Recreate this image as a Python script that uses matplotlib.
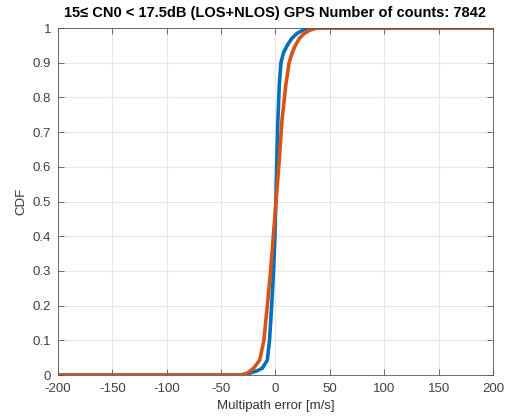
# CDF of multipath error, 15 <= CN0 < 17.5 dB, GPS (LOS+NLOS)

import matplotlib.pyplot as plt

# values
blue_x = [-200, -30, -24, -17, -12, -7.5, -5.5, -3.5, -1.8, -0.5, 0.3, 1.2,
          2.2, 3.5, 5, 7.5, 11, 15, 20, 26, 32, 200]
blue_cdf = [0, 0, 0.005, 0.012, 0.02, 0.043, 0.1, 0.2, 0.3, 0.4, 0.5, 0.62,
            0.735, 0.836, 0.9, 0.93, 0.951, 0.97, 0.985, 0.995, 1, 1]
orange_x = [-200, -32, -26, -20, -14.5, -10.7, -7.5, -4.5, -2, 0.5, 3, 6,
            9.5, 12.5, 15.5, 18.4, 22, 26, 31, 38, 200]
orange_cdf = [0, 0, 0.005, 0.02, 0.043, 0.1, 0.2, 0.3, 0.4, 0.5, 0.6, 0.735,
              0.836, 0.9, 0.93, 0.951, 0.97, 0.983, 0.993, 1, 1]
xticks = [-200, -150, -100, -50, 0, 50, 100, 150, 200]
yticks = [0, 0.1, 0.2, 0.3, 0.4, 0.5, 0.6, 0.7, 0.8, 0.9, 1]

plt.rcParams['font.family'] = ['Liberation Sans', 'DejaVu Sans']
plt.rcParams['axes.unicode_minus'] = False

fig = plt.figure(figsize=(5.06, 4.2), dpi=100)
ax = fig.add_axes([0.1146, 0.1071, 0.8597, 0.8262])  # [left, bottom, width, height]

ax.plot(blue_x, blue_cdf, c='#0072BD', lw=2.6, solid_joinstyle='round')
ax.plot(orange_x, orange_cdf, c='#D95319', lw=2.6, solid_joinstyle='round')

ax.set_xlim(-200, 200)
ax.set_ylim(0, 1)
ax.set_xticks(xticks)
ax.set_yticks(yticks)
ax.set_yticklabels(['0', '0.1', '0.2', '0.3', '0.4', '0.5', '0.6', '0.7', '0.8', '0.9', '1'])
ax.grid(True, color='#e6e6e6', lw=0.8)
ax.set_axisbelow(True)
ax.tick_params(direction='in', top=True, right=True, length=4, width=0.6,
               colors='#555555', labelsize=9.5, labelcolor='#404040')
ax.tick_params(axis='x', pad=6)
ax.tick_params(axis='y', pad=5)
for s in ax.spines.values():
    s.set_color('#555555')
    s.set_linewidth(0.6)

ax.set_xlabel('Multipath error [m/s]', fontsize=9.5, color='#333333', labelpad=3)
ax.set_ylabel('CDF', fontsize=9.5, color='#333333')
ax.set_title('15≤ CN0 < 17.5dB (LOS+NLOS) GPS Number of counts: 7842',
             fontsize=10.5, fontweight='bold', pad=8)

fig.savefig('out.png', dpi=100)
